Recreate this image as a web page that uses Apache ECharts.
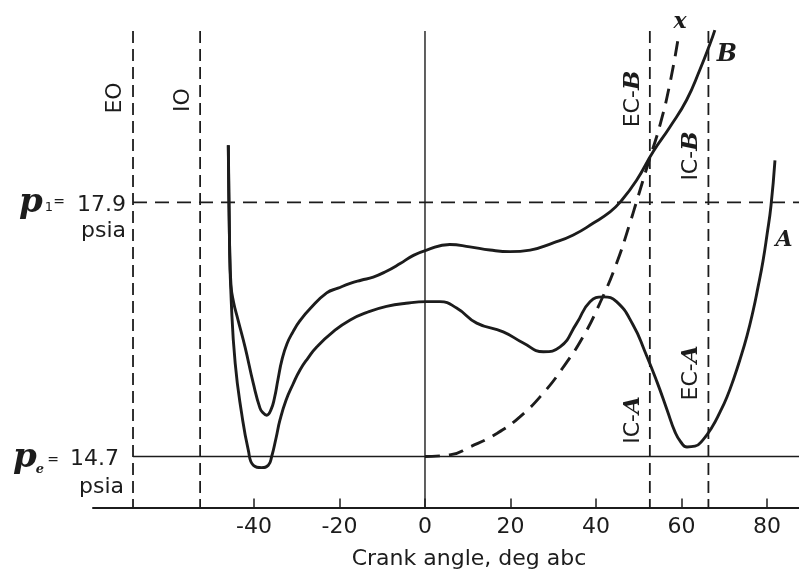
<!DOCTYPE html>
<html>
<head>
<meta charset="utf-8">
<script src="https://cdn.jsdelivr.net/npm/echarts@6/dist/echarts.min.js"></script>
<style>
  html, body { margin: 0; padding: 0; background: #fff; }
  #chart { width: 799px; height: 576px; }
</style>
</head>
<body>
<div id="chart"></div>
<script>
// Cylinder pressure vs crank angle (deg abc), psia
const curveA = [[-46.01,18.62],[-45.73,17.43],[-45.33,16.67],[-44.39,15.87],[-42.88,15.24],[-41.33,14.78],[-40.16,14.59],[-38.2,14.56],[-36.65,14.59],[-35.86,14.7],[-34.85,14.93],[-33.92,15.16],[-32.51,15.41],[-30.88,15.61],[-29.24,15.79],[-27.37,15.94],[-25.33,16.08],[-21.52,16.27],[-17.5,16.42],[-13.33,16.52],[-9.0,16.59],[-4.44,16.63],[0.4,16.65],[3.5,16.65],[7.4,16.57],[12.1,16.38],[18.3,16.27],[23.0,16.13],[27.7,16.02],[31.6,16.08],[35.5,16.38],[38.6,16.65],[41.7,16.71],[44.8,16.65],[48.65,16.36],[51.46,16.02],[54.27,15.64],[56.61,15.29],[58.48,15.01],[59.88,14.88],[61.29,14.82],[63.16,14.83],[65.03,14.91],[67.13,15.07],[69.01,15.26],[70.64,15.45],[72.28,15.69],[73.68,15.92],[75.32,16.22],[76.73,16.53],[77.89,16.83],[79.06,17.16],[80.0,17.49],[80.94,17.86],[81.87,18.43]];
const curveB = [[-46.01,18.62],[-45.73,17.43],[-45.38,16.86],[-44.8,16.65],[-43.74,16.42],[-42.1,16.08],[-40.16,15.62],[-38.6,15.31],[-37.89,15.25],[-37.03,15.22],[-36.02,15.29],[-35.2,15.44],[-34.39,15.67],[-33.45,15.92],[-32.28,16.12],[-30.88,16.27],[-29.24,16.41],[-26.9,16.56],[-22.99,16.76],[-20.35,16.82],[-17.5,16.88],[-14.97,16.92],[-12.1,16.96],[-9.12,17.03],[-5.8,17.13],[-2.81,17.23],[0.4,17.3],[5.8,17.37],[10.5,17.34],[15.2,17.3],[19.9,17.28],[24.6,17.3],[30.0,17.39],[34.7,17.49],[39.4,17.64],[43.3,17.78],[45.6,17.9],[49.5,18.18],[53.4,18.54],[57.3,18.85],[61.2,19.19],[64.3,19.57],[66.7,19.9],[67.8,20.07]];
const curveX = [[0,14.7],[5.8,14.72],[10.5,14.82],[16.8,14.99],[22.2,15.2],[27.7,15.5],[32.4,15.83],[37.0,16.21],[40.9,16.63],[44.8,17.13],[47.95,17.64],[49.6,17.93],[52.2,18.39],[55.0,18.88],[57.3,19.4],[59.3,19.99]];

// valve events, deg abc
const eventAngles = [-68.3, -52.6, 52.6, 66.3];
const p1 = 17.9;
const pe = 14.7;
const xTicks = [-40, -20, 0, 20, 40, 60, 80];

const xMin = -77.66, xMax = 87.49;
const yMin = 14.058, yMax = 20.449;
const lineTop = 20.06;

const SANS = '"DejaVu Sans", sans-serif';
const SERIF = '"DejaVu Serif", serif';
const INK = '#1c1c1c';

const series = [];
function refLine(data, dash, width) {
  series.push({
    type: 'line', data: data, symbol: 'none', silent: true, animation: false, z: 1,
    lineStyle: { color: INK, width: width, type: dash }
  });
}
eventAngles.forEach(a => refLine([[a, lineTop], [a, yMin]], [12, 6], 1.8));
refLine([[eventAngles[0], p1], [xMax, p1]], [14, 8], 1.8);
refLine([[eventAngles[0], pe], [xMax, pe]], 'solid', 1.4);
refLine([[0, lineTop], [0, yMin]], 'solid', 1.4);

function curve(data, dash) {
  series.push({
    type: 'line', data: data, symbol: 'none', smooth: 0.5, silent: true, animation: false, z: 3,
    lineStyle: { color: INK, width: 2.9, type: dash }
  });
}
curve(curveA, 'solid');
curve(curveB, 'solid');
curve(curveX, [15, 9]);

function txt(x, y, text, font, opts) {
  opts = opts || {};
  return {
    type: 'text', x: x, y: y, rotation: opts.rot || 0, silent: true,
    style: {
      text: text, font: font, fill: INK,
      align: opts.align || 'center', verticalAlign: 'middle',
      rich: opts.rich
    }
  };
}
const rot = Math.PI / 2;
const richLbl = {
  s: { font: '22px ' + SANS, fill: INK },
  b: { font: 'italic bold 23px ' + SERIF, fill: INK }
};

const graphics = [
  // pressure labels
  txt(31, 203, 'p', 'italic bold 34px ' + SERIF),
  txt(49, 208, '1', '13px ' + SANS),
  txt(59, 202, '=', '14px ' + SANS),
  txt(126, 205, '17.9', '22px ' + SANS, { align: 'right' }),
  txt(126, 231, 'psia', '22px ' + SANS, { align: 'right' }),
  txt(25, 458, 'p', 'italic bold 34px ' + SERIF),
  txt(40, 470, 'e', 'italic bold 13px ' + SERIF),
  txt(53, 460, '=', '14px ' + SANS),
  txt(119, 459, '14.7', '22px ' + SANS, { align: 'right' }),
  txt(124, 487, 'psia', '22px ' + SANS, { align: 'right' }),
  // valve event labels
  txt(115, 98, 'EO', '22px ' + SANS, { rot: rot }),
  txt(183, 100, 'IO', '22px ' + SANS, { rot: rot }),
  txt(633, 99, '{s|EC-}{b|B}', '22px ' + SANS, { rot: rot, rich: richLbl }),
  txt(691, 156, '{s|IC-}{b|B}', '22px ' + SANS, { rot: rot, rich: richLbl }),
  txt(633, 420, '{s|IC-}{b|A}', '22px ' + SANS, { rot: rot, rich: richLbl }),
  txt(691, 373, '{s|EC-}{b|A}', '22px ' + SANS, { rot: rot, rich: richLbl }),
  // curve labels
  txt(727, 55, 'B', 'italic bold 24px ' + SERIF),
  txt(784, 240, 'A', 'italic bold 22px ' + SERIF),
  txt(680, 22, 'x', 'italic bold 22px ' + SERIF),
  // axis title
  txt(469, 559, 'Crank angle, deg abc', '22px ' + SANS)
];

const chart = echarts.init(document.getElementById('chart'), null, { renderer: 'canvas' });
chart.setOption({
  backgroundColor: '#ffffff',
  animation: false,
  grid: { left: 93, right: 0, top: 0, bottom: 68.5, containLabel: false },
  xAxis: {
    type: 'value', min: xMin, max: xMax,
    axisLine: { show: true, onZero: false, lineStyle: { color: INK, width: 2 } },
    axisTick: { show: true, inside: true, length: 9, customValues: xTicks, lineStyle: { color: INK, width: 1.5 } },
    axisLabel: {
      show: true, customValues: xTicks, margin: 9,
      fontFamily: SANS, fontSize: 22, color: INK,
      formatter: v => String(v).replace('\u2212', '-')
    },
    splitLine: { show: false }
  },
  yAxis: {
    type: 'value', min: yMin, max: yMax,
    axisLine: { show: false }, axisTick: { show: false },
    axisLabel: { show: false }, splitLine: { show: false }
  },
  series: series,
  graphic: graphics
});
</script>
</body>
</html>
